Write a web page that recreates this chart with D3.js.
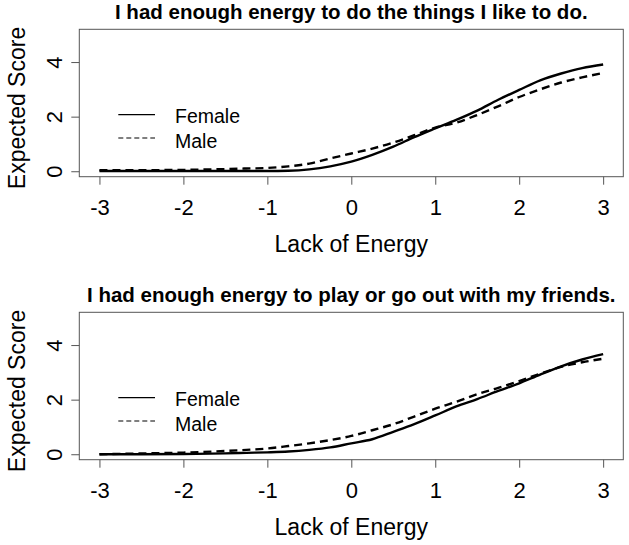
<!DOCTYPE html>
<html>
<head>
<meta charset="utf-8">
<script src="https://cdn.jsdelivr.net/npm/d3@7"></script>
<style>
  html, body { margin: 0; padding: 0; background: #fff; }
  text { font-family: "Liberation Sans", Arial, sans-serif; fill: #000; }
</style>
</head>
<body>
<svg id="chart" width="629" height="545"></svg>
<script>
// ---- data ----
const thetaGrid = [-3, -2.5, -2, -1.5, -1.25, -1, -0.75, -0.5, -0.25, 0, 0.25, 0.5, 0.75, 1, 1.25, 1.5, 1.75, 2, 2.25, 2.5, 2.75, 3];

const titles = [
  "I had enough energy to do the things I like to do.",
  "I had enough energy to play or go out with my friends."
];

const seriesNames = ["Female", "Male"];

const femaleTop = [0.01, 0.01, 0.01, 0.01, 0.01, 0.01, 0.02, 0.07, 0.18, 0.35, 0.60, 0.90, 1.25, 1.57, 1.88, 2.22, 2.62, 2.98, 3.33, 3.58, 3.78, 3.91];
const maleTop   = [0.04, 0.04, 0.05, 0.08, 0.10, 0.12, 0.18, 0.28, 0.47, 0.65, 0.83, 1.05, 1.32, 1.60, 1.78, 2.06, 2.38, 2.72, 3.00, 3.25, 3.44, 3.60];

const femaleBottom = [0.00, 0.00, 0.01, 0.03, 0.05, 0.07, 0.10, 0.16, 0.25, 0.40, 0.55, 0.82, 1.10, 1.42, 1.75, 2.02, 2.32, 2.60, 2.92, 3.22, 3.47, 3.67];
const maleBottom   = [0.00, 0.03, 0.06, 0.12, 0.16, 0.21, 0.30, 0.40, 0.52, 0.67, 0.88, 1.10, 1.38, 1.67, 1.92, 2.20, 2.43, 2.68, 2.95, 3.20, 3.37, 3.50];

const xTicks = [-3, -2, -1, 0, 1, 2, 3];
const yTicks = [0, 2, 4];
const xLabel = "Lack of Energy";
const yLabel = "Expected Score";

const panels = [
  { title: titles[0], female: femaleTop, male: maleTop, dy: 0 },
  { title: titles[1], female: femaleBottom, male: maleBottom, dy: 283 }
];

// ---- drawing ----
const svg = d3.select("#chart");
const box = { left: 79.3, right: 623.3, top: 29.3, bottom: 176.7 };

const x = d3.scaleLinear().domain([-3.24, 3.24]).range([box.left, box.right]);
const y = d3.scaleLinear().domain([-0.2, 5.2]).range([box.bottom, box.top]);

const line = d3.line()
  .x((d, i) => x(thetaGrid[i]))
  .y(d => y(d))
  .curve(d3.curveMonotoneX);

const fmt = d => d < 0 ? "-" + Math.abs(d) : String(d);

panels.forEach(p => {
  const g = svg.append("g").attr("transform", `translate(0,${p.dy})`);

  // title
  g.append("text")
    .attr("x", (box.left + box.right) / 2)
    .attr("y", 19.3)
    .attr("text-anchor", "middle")
    .style("font-weight", "bold")
    .style("font-size", "20.5px")
    .text(p.title);

  // x axis
  const gx = g.append("g")
    .attr("transform", `translate(0,${box.bottom})`)
    .call(d3.axisBottom(x).tickValues(xTicks).tickSize(8).tickSizeOuter(0).tickFormat(fmt));
  gx.select(".domain").remove();
  gx.selectAll(".tick line").attr("stroke", "#555").attr("stroke-width", 1);
  gx.selectAll(".tick text")
    .attr("y", 38.5).attr("dy", 0)
    .style("font-size", "22px").style("font-family", "Liberation Sans, Arial, sans-serif")
    .attr("fill", "#000");

  // y axis
  const gy = g.append("g")
    .attr("transform", `translate(${box.left},0)`)
    .call(d3.axisLeft(y).tickValues(yTicks).tickSize(8).tickSizeOuter(0).tickFormat(fmt));
  gy.select(".domain").remove();
  gy.selectAll(".tick line").attr("stroke", "#555").attr("stroke-width", 1);
  gy.selectAll(".tick text")
    .attr("x", 0).attr("y", 0).attr("dy", 0)
    .attr("text-anchor", "middle")
    .attr("transform", "translate(-17,0) rotate(-90)")
    .style("font-size", "22px").style("font-family", "Liberation Sans, Arial, sans-serif")
    .attr("fill", "#000");

  // box
  g.append("rect")
    .attr("x", box.left).attr("y", box.top)
    .attr("width", box.right - box.left).attr("height", box.bottom - box.top)
    .attr("fill", "none").attr("stroke", "#555").attr("stroke-width", 1);

  // axis titles
  g.append("text")
    .attr("x", (box.left + box.right) / 2)
    .attr("y", 252)
    .attr("text-anchor", "middle")
    .style("font-size", "23px")
    .text(xLabel);

  g.append("text")
    .attr("transform", `translate(25,${(box.top + box.bottom) / 2 + 5}) rotate(-90)`)
    .attr("text-anchor", "middle")
    .style("font-size", "23px")
    .text(yLabel);

  // curves
  g.append("path")
    .datum(p.female)
    .attr("d", line)
    .attr("fill", "none").attr("stroke", "#000").attr("stroke-width", 2.4);
  g.append("path")
    .datum(p.male)
    .attr("d", line)
    .attr("fill", "none").attr("stroke", "#000").attr("stroke-width", 2.4)
    .attr("stroke-dasharray", "8,5");

  // legend
  const leg = [
    { name: seriesNames[0], dash: null, ly: 114.7, ty: 123.3 },
    { name: seriesNames[1], dash: "5,3", ly: 138, ty: 147.7 }
  ];
  leg.forEach(l => {
    g.append("line")
      .attr("x1", 118.3).attr("x2", 155)
      .attr("y1", l.ly).attr("y2", l.ly)
      .attr("stroke", "#000").attr("stroke-width", 1.2)
      .attr("stroke-dasharray", l.dash);
    g.append("text")
      .attr("x", 175).attr("y", l.ty)
      .style("font-size", "19.5px")
      .text(l.name);
  });
});
</script>
</body>
</html>
